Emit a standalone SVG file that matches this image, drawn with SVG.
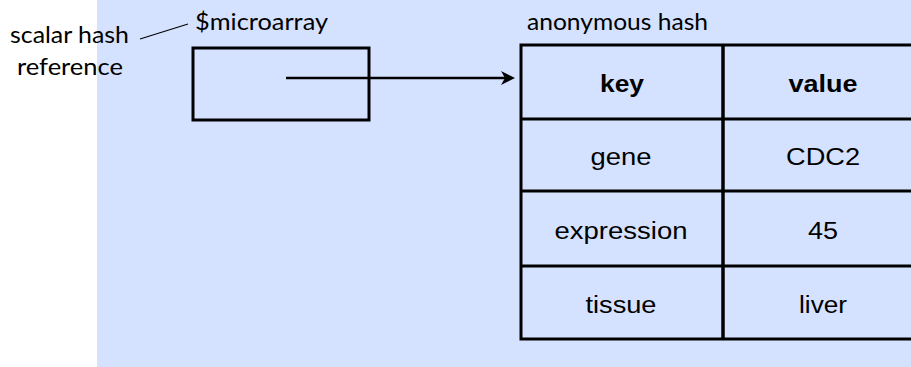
<svg xmlns="http://www.w3.org/2000/svg" width="911" height="367" viewBox="0 0 911 367">
<style>
.lbl{font-family:"Lato","Open Sans","Liberation Sans",sans-serif;font-size:24px;fill:#000}
.cell{font-family:"Liberation Sans",Arial,sans-serif;font-size:23px;fill:#000;text-anchor:middle}
.hdr{font-weight:bold}
.box{fill:none;stroke:#000;stroke-width:3}
</style>
<rect x="97" y="0" width="814" height="367" fill="#D5E2FF"/>
<g id="label-scalar">
<text class="lbl" x="10" y="43" textLength="119" lengthAdjust="spacingAndGlyphs">scalar hash</text>
<text class="lbl" x="17" y="75" textLength="106" lengthAdjust="spacingAndGlyphs">reference</text>
</g>
<g id="pointer">
<text class="lbl" x="195" y="30" textLength="133" lengthAdjust="spacingAndGlyphs">$microarray</text>
<rect class="box" x="193" y="48" width="176" height="72"/>
</g>
<g id="hash">
<text class="lbl" x="527" y="30" textLength="181" lengthAdjust="spacingAndGlyphs">anonymous hash</text>
<rect class="box" x="521" y="45" width="400" height="294"/>
<line x1="723" y1="45" x2="723" y2="339" stroke="#000" stroke-width="3.5"/>
<line x1="521" y1="119" x2="911" y2="119" stroke="#000" stroke-width="3"/>
<line x1="521" y1="191" x2="911" y2="191" stroke="#000" stroke-width="3"/>
<line x1="521" y1="266" x2="911" y2="266" stroke="#000" stroke-width="3"/>
<text class="cell hdr" x="622" y="92" textLength="44" lengthAdjust="spacingAndGlyphs">key</text>
<text class="cell hdr" x="823" y="92" textLength="69" lengthAdjust="spacingAndGlyphs">value</text>
<text class="cell" x="621" y="165" textLength="61" lengthAdjust="spacingAndGlyphs">gene</text>
<text class="cell" x="823" y="165" textLength="74" lengthAdjust="spacingAndGlyphs">CDC2</text>
<text class="cell" x="621" y="239" textLength="133" lengthAdjust="spacingAndGlyphs">expression</text>
<text class="cell" x="823" y="239" textLength="30" lengthAdjust="spacingAndGlyphs">45</text>
<text class="cell" x="621" y="313" textLength="71" lengthAdjust="spacingAndGlyphs">tissue</text>
<text class="cell" x="823" y="313" textLength="48" lengthAdjust="spacingAndGlyphs">liver</text>
</g>
<g id="connectors">
<line x1="140" y1="39" x2="188" y2="24" stroke="#000" stroke-width="1.2"/>
<line x1="286" y1="78" x2="508" y2="78" stroke="#000" stroke-width="2.5"/>
<path d="M501,71 L515,78 L501,85 L505,78 z" fill="#000"/>
</g>
</svg>
